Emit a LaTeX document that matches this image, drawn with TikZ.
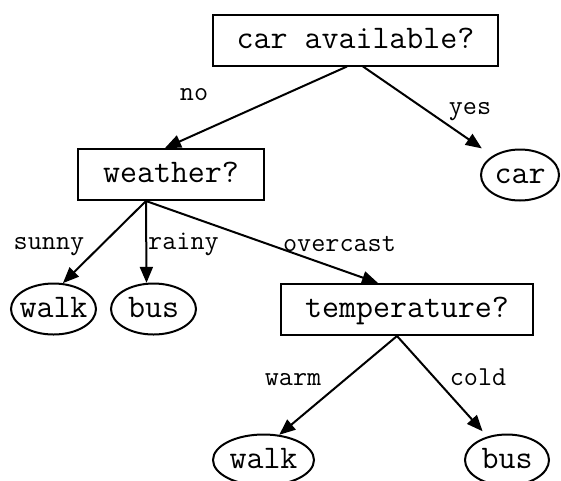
\documentclass[tikz,border=0pt]{standalone}
\usepackage{fontspec}
\usepackage{tikz}
\usetikzlibrary{shapes.geometric,arrows.meta,calc}

\begin{document}
\begin{tikzpicture}[
    x=1pt, y=-1pt,
    box/.style={rectangle, draw, line width=2pt, inner sep=0pt, minimum height=51pt, text height=21.5pt, text depth=4.6pt, font=\fontsize{33}{36}\selectfont\ttfamily},
    leaf/.style={ellipse, draw, line width=2pt, inner sep=0pt, minimum height=51pt, text height=21.5pt, text depth=4.6pt, font=\fontsize{33}{36}\selectfont\ttfamily},
    arrow/.style={-{Triangle[length=16pt, width=13pt]}, line width=2pt},
    lbl/.style={anchor=base, inner sep=0pt, font=\fontsize{27.4}{30}\selectfont\ttfamily}
  ]
    \useasboundingbox (0,0) rectangle (561,480);
    \fill[white] (0,0) rectangle (561,480);
    \clip (0,0) rectangle (561,480);

    % Question nodes
    \node[box, minimum width=285pt] (avail) at (355.5,40) {car available?};
    \node[box, minimum width=186pt] (weather) at (171,174.5) {weather?};
    \node[box, minimum width=252pt] (temp) at (407,309.5) {temperature?};

    % Answer nodes
    \node[leaf, minimum width=78pt] (car) at (520,175) {car};
    \node[leaf, minimum width=85pt, inner xsep=-8pt] (walkA) at (53.5,309) {walk};
    \node[leaf, minimum width=85pt] (busA) at (153.5,309) {bus};
    \node[leaf, minimum width=101pt] (walkB) at (263.5,460) {walk};
    \node[leaf, minimum width=84pt] (busB) at (507,460) {bus};

    % Arrows
    \draw[arrow] ($(avail.south)+(-8.5,0)$) -- ($(weather.north)+(-6,0)$);
    \draw[arrow, shorten >=13pt] ($(avail.south)+(7.5,0)$) -- (car.145);
    \draw[arrow] ($(weather.south)+(-25,0)$) -- (walkA.70);
    \draw[arrow] ($(weather.south)+(-25,0)$) -- (busA.105);
    \draw[arrow] ($(weather.south)+(-25,0)$) -- ($(temp.north)+(-29,0)$);
    \draw[arrow] ($(temp.south)+(-10,0)$) -- (walkB.58);
    \draw[arrow, shorten >=7pt] ($(temp.south)+(-10,0)$) -- (busB.130);

    % Labels for answers
    \node[lbl] (lno) at (194,100) {no};
    \node[lbl] (lyes) at (470,114) {yes};
    \node[lbl] (lsunny) at (49,249) {sunny};
    \node[lbl] (lrainy) at (183.5,249) {rainy};
    \node[lbl] (lover) at (339.5,251) {overcast};
    \node[lbl] (lwarm) at (293,385) {warm};
    \node[lbl] (lcold) at (478,385) {cold};
\end{tikzpicture}
\end{document}
